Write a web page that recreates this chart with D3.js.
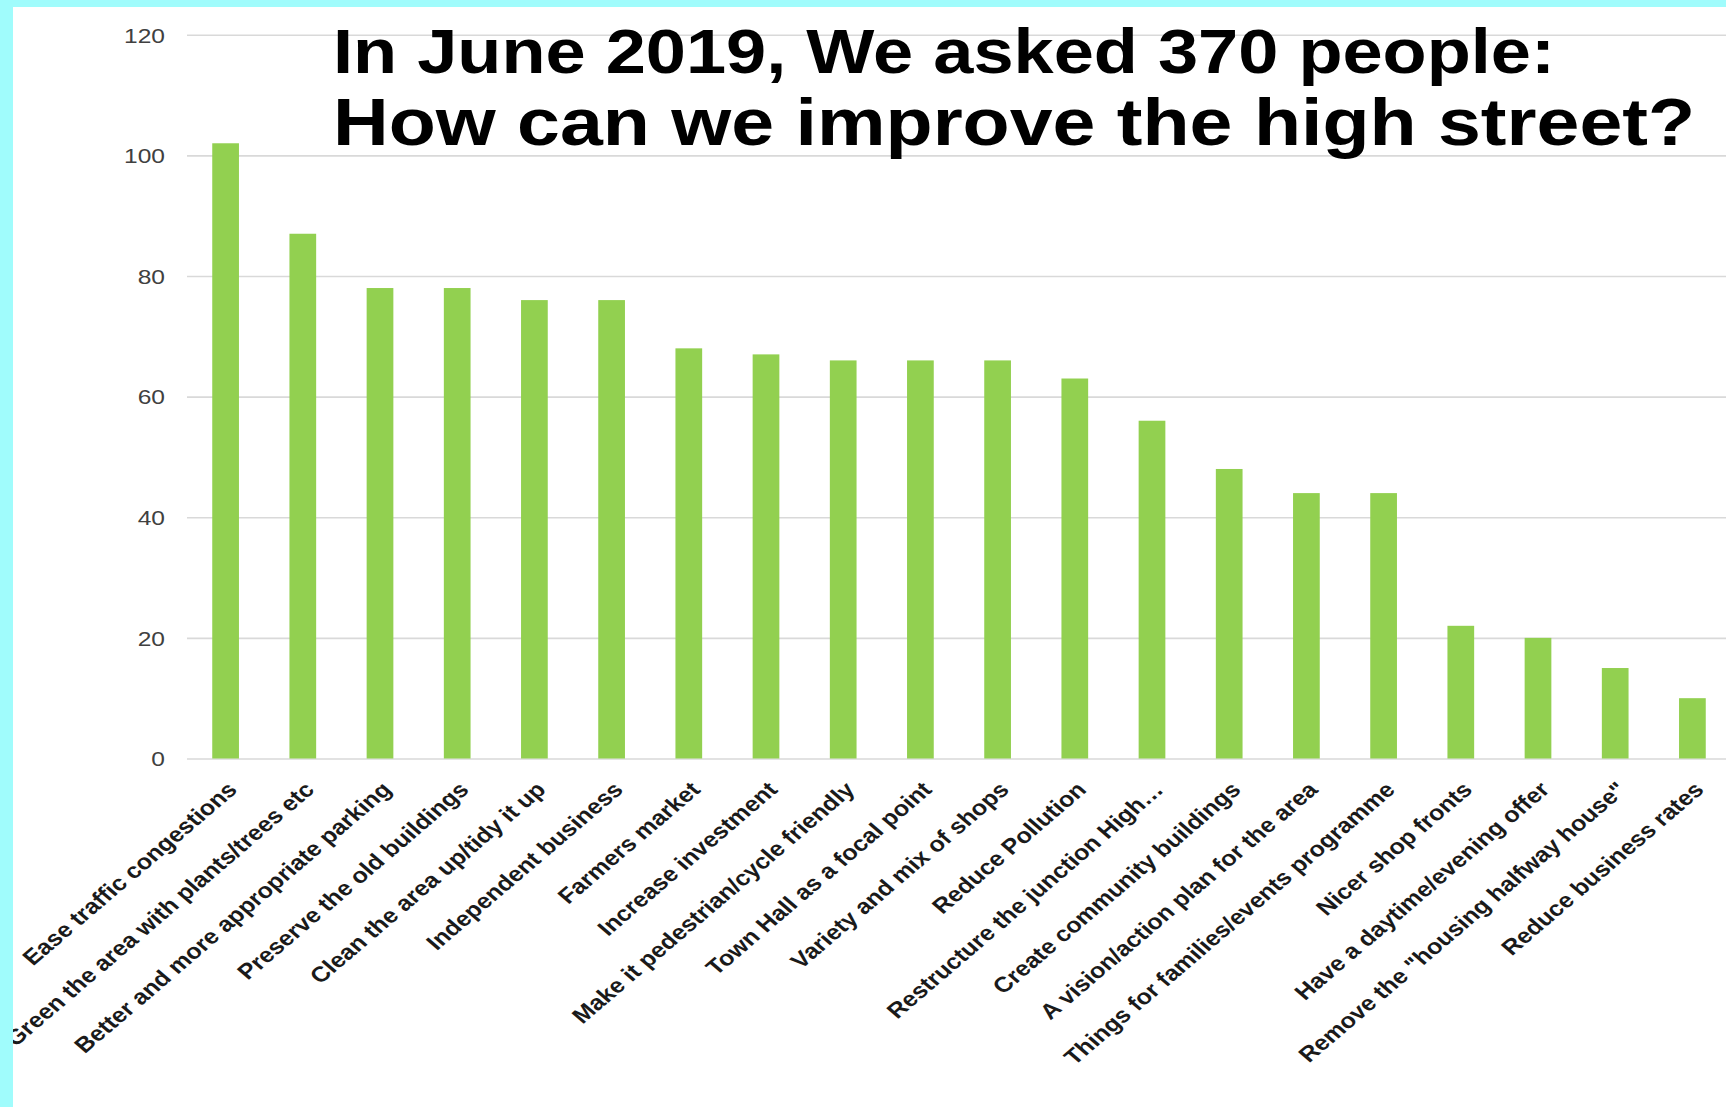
<!DOCTYPE html>
<html>
<head>
<meta charset="utf-8">
<script src="https://cdn.jsdelivr.net/npm/d3@7"></script>
<style>
    body { margin: 0; background: #ffffff; }
    svg { display: block; }
    text { font-family: "Liberation Sans", Arial, sans-serif; }
</style>
</head>
<body>
<div class="chart"></div>
<script>
// survey answers, in the order shown
const categories = [
    "Ease traffic congestions",
    "Green the area with plants/trees etc",
    "Better and more appropriate parking",
    "Preserve the old buildings",
    "Clean the area up/tidy it up",
    "Independent business",
    "Farmers market",
    "Increase investment",
    "Make it pedestrian/cycle friendly",
    "Town Hall as a focal point",
    "Variety and mix of shops",
    "Reduce Pollution",
    "Restructure the junction High\u2026",
    "Create community buildings",
    "A vision/action plan for the area",
    "Things for families/events programme",
    "Nicer shop fronts",
    "Have a daytime/evening offer",
    "Remove the \"housing halfway house\"",
    "Reduce business rates"
];
const counts = [102, 87, 78, 78, 76, 76, 68, 67, 66, 66, 66, 63, 56, 48, 44, 44, 22, 20, 15, 10];
const yTicks = [0, 20, 40, 60, 80, 100, 120];
const titleLines = ["In June 2019, We asked 370 people:", "How can we improve the high street?"];

const width = 1726;
const height = 1107;
const stretch = 1.17;   // the picture is a bit wide, text too

const data = categories.map((c, i) => ({ name: c, value: counts[i] }));

const xScale = d3.scaleBand()
    .domain(categories)
    .range([187, 1731])
    .paddingInner(0.654)
    .paddingOuter(0.327);

const yScale = d3.scaleLinear()
    .domain([0, 120])
    .range([758.5, 34.7]);

let svg = d3.select(".chart")
    .append("svg")
    .attr("width", width)
    .attr("height", height);

svg.append("rect")
    .attr("width", width)
    .attr("height", height)
    .attr("fill", "#ffffff");

// y axis with grid lines
let yAxis = svg.append("g")
    .attr("transform", "translate(187, 0)")
    .call(d3.axisLeft(yScale).tickValues(yTicks).tickSize(-(width - 187)).tickPadding(0));

yAxis.select(".domain").remove();
yAxis.selectAll(".tick line")
    .attr("stroke", "#d9d9d9")
    .attr("stroke-width", 1.6);
yAxis.selectAll(".tick text")
    .attr("x", 0)
    .attr("dy", "0.35em")
    .attr("transform", "translate(-22, 0) scale(" + stretch + ", 1)")
    .attr("fill", "#404040")
    .style("font-size", "21px");

// bars
svg.selectAll("rect.bar")
    .data(data)
    .enter()
    .append("rect")
    .attr("class", "bar")
    .attr("x", (d) => xScale(d.name))
    .attr("y", (d) => yScale(d.value))
    .attr("width", xScale.bandwidth())
    .attr("height", (d) => yScale(0) - yScale(d.value))
    .attr("fill", "#92d050");

// category labels, slanted
svg.append("g")
    .selectAll("text")
    .data(data)
    .enter()
    .append("text")
    .text((d) => d.name)
    .attr("text-anchor", "end")
    .attr("dy", "0.72em")
    .attr("transform", (d) => "translate(" + (xScale(d.name) + xScale.bandwidth() / 2) + ", 780) scale(" + stretch + ", 1) rotate(-45)")
    .attr("fill", "#1a1a1a")
    .style("font-size", "21.5px")
    .style("font-weight", "bold");

// title
svg.append("text")
    .text(titleLines[0])
    .attr("x", 333)
    .attr("y", 73)
    .attr("textLength", 1222)
    .attr("lengthAdjust", "spacingAndGlyphs")
    .style("font-size", "63px")
    .style("font-weight", "bold")
    .attr("fill", "#000000");

svg.append("text")
    .text(titleLines[1])
    .attr("x", 333)
    .attr("y", 145)
    .attr("textLength", 1362)
    .attr("lengthAdjust", "spacingAndGlyphs")
    .style("font-size", "66px")
    .style("font-weight", "bold")
    .attr("fill", "#000000");

// cyan frame on top and left
svg.append("rect")
    .attr("x", 0).attr("y", 0)
    .attr("width", width).attr("height", 7)
    .attr("fill", "#a0fcfc");
svg.append("rect")
    .attr("x", 0).attr("y", 0)
    .attr("width", 13).attr("height", height)
    .attr("fill", "#a0fcfc");
</script>
</body>
</html>
